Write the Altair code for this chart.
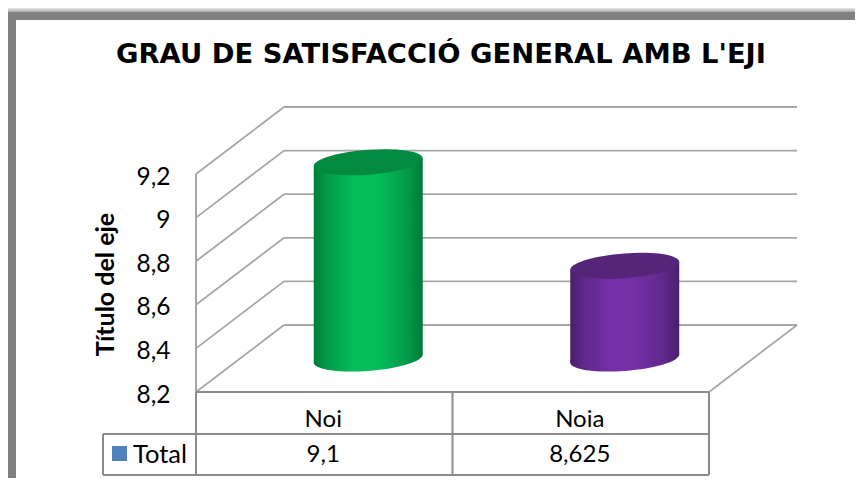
import altair as alt
import pandas as pd

# ---- data
categories = ["Noi", "Noia"]
positions = [0.5, 1.5]
values = [9.1, 8.625]
value_labels = ["9,1", "8,625"]
axis_ticks = [8.2, 8.4, 8.6, 8.8, 9.0, 9.2]
series_name = "Total"
chart_title = "GRAU DE SATISFACCIÓ GENERAL AMB L'EJI"
axis_title = "Título del eje"
side_dark = ["#007A38", "#4A1F6E"]
side_mid = ["#029A4A", "#5F288C"]
side_bright = ["#04BD5A", "#7430A6"]
cap_fill = ["#028A40", "#542578"]

# ---- layout (canvas pixels)
W, H = 847, 470
X0, X1 = 188, 701          # front floor edge
XM = (X0 + X1) / 2
DX, DY = 88, 67            # depth of the 3D box
Y_FLOOR, Y_TOP = 384, 166  # 8.2 and 9.2 on the front plane
ROW1, ROW2 = 426, 467      # table rows
TAB_L = 95
GRID = "#A6A6A6"
TABLE = "#8C8C8C"
FRAME = "#808080"
SANS = "Lato"
GRID_W, TABLE_W = 1.8, 2
CYL_W = 109
CAP_B, CAP_S = 0.228, 0.073  # cap half height and tilt, as parts of the half width
SHEAR_PX = CAP_S * CYL_W / 2

UNIT_X = 2 / (X1 - X0)               # data units per pixel
UNIT_Y = 1.0 / (Y_FLOOR - Y_TOP)
BASE = min(axis_ticks)

table_df = pd.DataFrame({"cat": categories, "pos": positions, "lab": value_labels})
ticks = pd.DataFrame({"v": axis_ticks})

yaxis = alt.Axis(
    values=axis_ticks, offset=-X0, domain=False, ticks=False, grid=False,
    labelExpr="replace(datum.label, '.', ',')", format="~g",
    labelFont=SANS, labelFontSize=24.5, labelColor="#000", labelPadding=26, labelOffset=3,
    title=axis_title, titleFont=SANS, titleFontSize=25, titleFontWeight="bold",
    titleColor="#000", titleX=-77.5, titleY=276, titleAngle=270)
yscale = alt.Scale(domain=[8.2, 9.2], range=[Y_FLOOR, Y_TOP], zero=False, nice=False)
xscale = alt.Scale(domain=[0, 2], range=[X0, X1], zero=False, nice=False)
Y = alt.Y("v:Q", scale=yscale, axis=yaxis)
Xp = alt.X("pos:Q", scale=xscale, axis=None)


# ---- tilted ellipse, unit width 2
def cap_path(b, s, k=0.5523):
    return (f"M -1 {s} C -1 {s - b * k} {-k} {s * k - b} 0 {-b} "
            f"C {k} {-s * k - b} 1 {-s - b * k} 1 {-s} "
            f"C 1 {-s + b * k} {k} {-s * k + b} 0 {b} "
            f"C {-k} {s * k + b} -1 {s + b * k} -1 {s} Z")


ELLIPSE = cap_path(CAP_B, CAP_S)


def rect(x, x2, y, y2, fill):
    return alt.Chart(ticks.head(1)).mark_rect(fill=fill).encode(
        x=alt.value(x), x2=alt.value(x2), y=alt.value(y), y2=alt.value(y2))


def hline(x, x2, y, color=TABLE):
    return alt.Chart(ticks.head(1)).mark_rule(color=color, strokeWidth=TABLE_W).encode(
        x=alt.value(x), x2=alt.value(x2), y=alt.value(y))


def vline(x, y, y2, color=TABLE):
    return alt.Chart(ticks.head(1)).mark_rule(color=color, strokeWidth=TABLE_W).encode(
        x=alt.value(x), y=alt.value(y), y2=alt.value(y2))


# ---- frame
shadow = alt.Gradient(gradient="linear", x1=0, x2=0, y1=0, y2=1,
                      stops=[alt.GradientStop(offset=0, color="#E8E8E8"),
                             alt.GradientStop(offset=1, color="#A8A8A8")])
frame = [
    rect(0, W, 0, 4, shadow),
    rect(0, W, 4, 12, FRAME),
    rect(0, 8, 4, H, FRAME),
]

# ---- walls
back_grid = alt.Chart(ticks).mark_rule(color=GRID, strokeWidth=GRID_W, yOffset=-DY).encode(
    x=alt.value(X0 + DX), x2=alt.value(X1 + DX), y=Y)
side_grid = alt.Chart(ticks).mark_rule(color=GRID, strokeWidth=GRID_W, y2Offset=-DY).encode(
    x=alt.value(X0), x2=alt.value(X0 + DX), y=Y, y2=alt.Y2("v:Q"))
right_diag = alt.Chart(ticks.head(1)).mark_rule(color=GRID, strokeWidth=GRID_W, y2Offset=-DY).encode(
    x=alt.value(X1), x2=alt.value(X1 + DX), y=Y, y2=alt.Y2("v:Q"))
front_axis = vline(X0, Y_TOP, Y_FLOOR, GRID)

# ---- cylinders
cyl_layers = []
for i, (p, val) in enumerate(zip(positions, values)):
    cx = p + DX / 2 * UNIT_X
    top = val + DY / 2 * UNIT_Y
    bot = BASE + DY / 2 * UNIT_Y
    half = CYL_W / 2 * UNIT_X
    sh = SHEAR_PX * UNIT_Y
    body = pd.DataFrame({"pos": [cx - half, cx + half],
                         "v": [top - sh, top + sh],
                         "b": [bot - sh, bot + sh]})
    caps = pd.DataFrame({"pos": [cx], "v": [top], "b": [bot]})
    grad = alt.Gradient(gradient="linear", x1=0, x2=1, y1=0, y2=0, stops=[
        alt.GradientStop(offset=0, color=side_dark[i]),
        alt.GradientStop(offset=0.12, color=side_mid[i]),
        alt.GradientStop(offset=0.36, color=side_bright[i]),
        alt.GradientStop(offset=0.58, color=side_bright[i]),
        alt.GradientStop(offset=0.86, color=side_mid[i]),
        alt.GradientStop(offset=1, color=side_dark[i]),
    ])
    cyl_layers.append(alt.Chart(caps).mark_point(
        shape=ELLIPSE, size=CYL_W ** 2, filled=True, opacity=1, fill=grad, stroke=None).encode(
        x=Xp, y=alt.Y("b:Q", scale=yscale, axis=yaxis)))
    cyl_layers.append(alt.Chart(body).mark_area(
        fill=grad, line=False, interpolate="linear", opacity=1).encode(
        x=Xp, y=Y, y2=alt.Y2("b:Q")))
    cyl_layers.append(alt.Chart(caps).mark_point(
        shape=ELLIPSE, size=CYL_W ** 2, filled=True, opacity=1, fill=cap_fill[i], stroke=None).encode(
        x=Xp, y=Y))

# ---- data table
table = [
    hline(X0, X1, Y_FLOOR), hline(TAB_L, X1, ROW1), hline(TAB_L, X1, ROW2),
    vline(X0, Y_FLOOR, ROW2), vline(XM, Y_FLOOR, ROW2), vline(X1, Y_FLOOR, ROW2),
    vline(TAB_L, ROW1, ROW2),
    rect(104, 119, 438, 453, "#4F81BD"),
]
cat_text = alt.Chart(table_df).mark_text(font=SANS, fontSize=24, color="#000", dx=-1).encode(
    x=Xp, y=alt.value(412), text="cat:N")
val_text = alt.Chart(table_df).mark_text(font=SANS, fontSize=24, color="#000", dx=-1).encode(
    x=Xp, y=alt.value(447), text="lab:N")
series_text = alt.Chart(ticks.head(1)).mark_text(
    font=SANS, fontSize=25.5, color="#000", align="left", text=series_name).encode(
    x=alt.value(125), y=alt.value(447))

chart = alt.layer(
    *frame, back_grid, side_grid, right_diag, front_axis, *cyl_layers,
    *table, cat_text, val_text, series_text
).properties(
    width=W, height=H, padding=0, autosize=alt.AutoSizeParams(type="none"),
    title=alt.TitleParams(chart_title, font="DejaVu Sans", fontSize=27.4, fontWeight="bold",
                          color="#000", anchor="middle", frame="group", baseline="alphabetic",
                          offset=0, dx=9.5, dy=82),
).configure_view(stroke=None).configure(background="white")

chart.save("out.html", embed_options={"renderer": "svg", "actions": False})
